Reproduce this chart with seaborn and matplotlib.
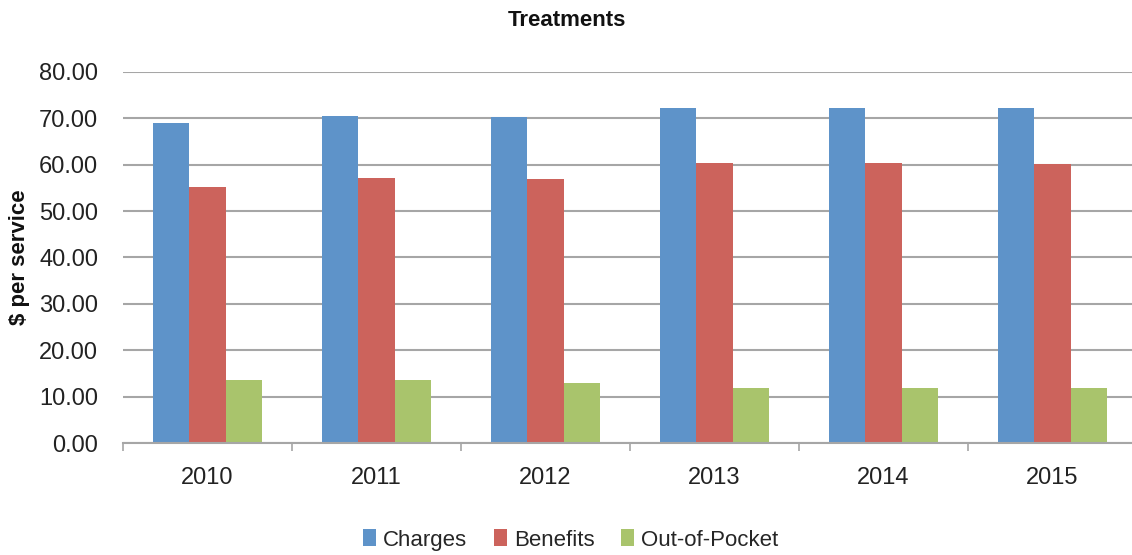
import numpy as np
import pandas as pd
import matplotlib
matplotlib.use("Agg")
import matplotlib.pyplot as plt
import seaborn as sns
from matplotlib.patches import Patch

# -----------------------------
# Data
# -----------------------------
years = ["2010", "2011", "2012", "2013", "2014", "2015"]
charges = [68.9, 70.5, 70.2, 72.2, 72.2, 72.2]
benefits = [55.2, 57.2, 56.9, 60.4, 60.4, 60.1]
out_of_pocket = [13.5, 13.5, 12.9, 11.8, 11.8, 11.9]

series_names = ["Charges", "Benefits", "Out-of-Pocket"]
colors = ["#5E93C9", "#CC635C", "#A9C46C"]

df = pd.DataFrame({
    "Year": years * 3,
    "Series": np.repeat(series_names, len(years)),
    "Value": charges + benefits + out_of_pocket,
})

sns.set_theme(style="white")
plt.rcParams["font.family"] = ["Liberation Sans", "DejaVu Sans"]

fig = plt.figure(figsize=(11.32, 5.55), dpi=100)
ax = fig.add_axes([0.1087, 0.2018, 0.8957, 0.6685])

sns.barplot(
    data=df, x="Year", y="Value", hue="Series",
    hue_order=series_names, palette=colors,
    width=0.65, gap=0, saturation=1, linewidth=0, legend=False, ax=ax,
)

ax.set_ylim(0, 80)
ax.set_xlim(-0.5, len(years) - 0.5)
ax.set_yticks(np.arange(0, 81, 10))
ax.set_yticklabels([f"{v:.2f}" for v in np.arange(0, 81, 10)])
ax.yaxis.grid(True, color="#A6A6A6", linewidth=1.5)
ax.set_axisbelow(True)

for side in ["left", "right", "top"]:
    ax.spines[side].set_visible(False)
ax.spines["bottom"].set_color("#A6A6A6")
ax.spines["bottom"].set_linewidth(1.5)

# tick marks between the year groups
ax.set_xticks(np.arange(-0.5, len(years)), minor=True)
ax.tick_params(axis="x", which="minor", length=6, width=1.2, color="#A6A6A6", direction="out", bottom=True)
ax.tick_params(axis="x", which="major", length=0, pad=17, labelsize=17, labelcolor="#222222")
ax.tick_params(axis="y", length=0, pad=18, labelsize=17, labelcolor="#222222")

ax.set_xlabel("")
ax.set_ylabel("$ per service", fontsize=16, fontweight="bold", color="#111111")
ax.yaxis.set_label_coords(-0.092, 0.5)

fig.text(0.501, 1 - 20 / 555, "Treatments", ha="center", va="center",
         fontsize=16, fontweight="bold", color="#111111")

handles = [Patch(facecolor=c, edgecolor="none") for c in colors]
fig.legend(handles, series_names, loc="center", bbox_to_anchor=(0.504, 0.027),
           ncol=3, frameon=False, fontsize=16, handlelength=0.6, handleheight=0.8,
           handletextpad=0.3, columnspacing=1.2)

plt.savefig("out.png", dpi=100)
